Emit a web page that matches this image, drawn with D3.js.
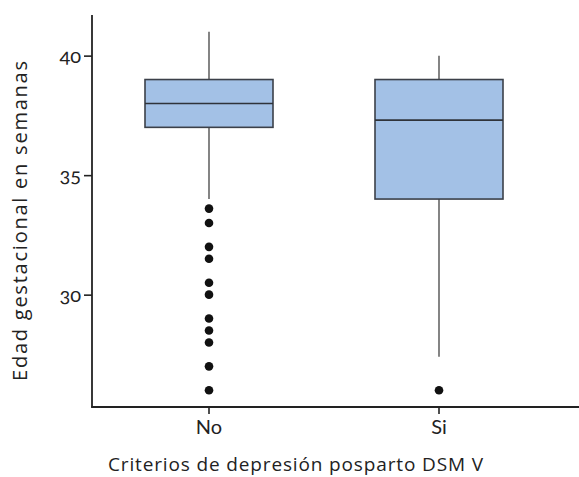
<!DOCTYPE html>
<html><head><meta charset="utf-8">
<script src="https://cdn.jsdelivr.net/npm/d3@7"></script>
<style>body{margin:0;background:#fff}svg{display:block}text{font-family:Lato,"Open Sans",sans-serif;fill:#222;font-variant-numeric:oldstyle-nums}.ttl{font-family:"Open Sans",Lato,sans-serif;font-weight:400}</style>
</head><body><svg id="c" width="579" height="477"></svg>
<script>
const categories = ["No", "Si"];
const whiskerLow = [34.0, 27.4];
const q1 = [37, 34];
const median = [38, 37.3];
const q3 = [39, 39];
const whiskerHigh = [41, 40];
const outliersNo = [33.6, 33, 32, 31.5, 30.5, 30, 29, 28.5, 28, 27, 26];
const outliersSi = [26];
const outliers = [outliersNo, outliersSi];
const yTicks = [30, 35, 40];

const svg = d3.select("#c");
const y = d3.scaleLinear().domain([25.3, 41.7]).range([407, 15]);
const x = d3.scaleBand().domain(categories).range([94, 554]);
const cx = c => x(c) + x.bandwidth() / 2;
const boxW = 128;

// axes
const ya = svg.append("g").attr("transform", "translate(92,0)")
  .call(d3.axisLeft(y).tickValues(yTicks).tickSize(8).tickPadding(3));
ya.select(".domain").remove();
ya.selectAll(".tick line").attr("stroke", "#222").attr("stroke-width", 1.6);
ya.selectAll(".tick text").attr("font-size", 20).attr("fill", "#222");

const xa = svg.append("g").attr("transform", "translate(0,407)")
  .call(d3.axisBottom(x).tickSize(7).tickPadding(6));
xa.select(".domain").remove();
xa.selectAll(".tick line").attr("stroke", "#222").attr("stroke-width", 1.6);
xa.selectAll(".tick text").attr("font-size", 20).attr("fill", "#222");

svg.append("line").attr("x1", 92).attr("x2", 92).attr("y1", 15).attr("y2", 407.8)
  .attr("stroke", "#222").attr("stroke-width", 1.8);
svg.append("line").attr("x1", 91.2).attr("x2", 579).attr("y1", 407).attr("y2", 407)
  .attr("stroke", "#222").attr("stroke-width", 1.8);

// boxes
categories.forEach((c, i) => {
  const g = svg.append("g");
  const xc = cx(c);
  g.append("line").attr("x1", xc).attr("x2", xc).attr("y1", y(whiskerHigh[i])).attr("y2", y(q3[i]))
    .attr("stroke", "#666").attr("stroke-width", 1.6);
  g.append("line").attr("x1", xc).attr("x2", xc).attr("y1", y(q1[i])).attr("y2", y(whiskerLow[i]))
    .attr("stroke", "#666").attr("stroke-width", 1.6);
  g.append("rect").attr("x", xc - boxW / 2).attr("width", boxW)
    .attr("y", y(q3[i])).attr("height", y(q1[i]) - y(q3[i]))
    .attr("fill", "#a3c1e6").attr("stroke", "#3b4049").attr("stroke-width", 1.6);
  g.append("line").attr("x1", xc - boxW / 2).attr("x2", xc + boxW / 2)
    .attr("y1", y(median[i])).attr("y2", y(median[i]))
    .attr("stroke", "#2f333a").attr("stroke-width", 1.6);
  g.selectAll("circle").data(outliers[i]).join("circle")
    .attr("cx", xc).attr("cy", d => y(d)).attr("r", 4.3).attr("fill", "#111");
});

// titles
svg.append("text").attr("class", "ttl").attr("x", 295.5).attr("y", 471).attr("text-anchor", "middle")
  .attr("font-size", 19).attr("fill", "#2a2a2a")
  .attr("textLength", 375).attr("lengthAdjust", "spacing")
  .text("Criterios de depresión posparto DSM V");
svg.append("text").attr("class", "ttl").attr("transform", "translate(27,221) rotate(-90)").attr("text-anchor", "middle")
  .attr("font-size", 20).attr("fill", "#2a2a2a")
  .attr("textLength", 320).attr("lengthAdjust", "spacing")
  .text("Edad gestacional en semanas");
</script></body></html>
